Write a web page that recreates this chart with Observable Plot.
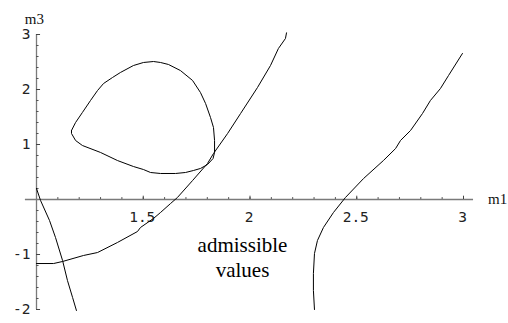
<!DOCTYPE html>
<html>
<head>
<meta charset="utf-8">
<script src="https://cdn.jsdelivr.net/npm/d3@7"></script>
<script src="https://cdn.jsdelivr.net/npm/@observablehq/plot@0.6"></script>
<style>
  html, body { margin: 0; padding: 0; background: #fff; }
  #chart svg { display: block; }
</style>
</head>
<body>
<div id="chart"></div>
<script>
// Level curves in the (m1, m3) plane, as [m1, m3] pairs.
const loopCurve = [
  [1.164, 1.255], [1.183, 1.40], [1.215, 1.582], [1.253, 1.80], [1.286, 1.982],
  [1.314, 2.109], [1.356, 2.218], [1.393, 2.309], [1.454, 2.436], [1.501, 2.491],
  [1.548, 2.509], [1.581, 2.491], [1.618, 2.455], [1.674, 2.345], [1.731, 2.164],
  [1.768, 1.945], [1.792, 1.745], [1.815, 1.491], [1.829, 1.309], [1.834, 1.073],
  [1.834, 0.855], [1.827, 0.745], [1.801, 0.636], [1.768, 0.564], [1.735, 0.527],
  [1.698, 0.491], [1.651, 0.473], [1.581, 0.473], [1.534, 0.491], [1.501, 0.545],
  [1.454, 0.60], [1.379, 0.709], [1.30, 0.855], [1.215, 0.982], [1.183, 1.073],
  [1.164, 1.20], [1.164, 1.255]
];

const risingCurve = [
  [1.0, -1.164], [1.080, -1.164], [1.122, -1.127], [1.220, -1.018], [1.286, -0.964],
  [1.379, -0.782], [1.473, -0.582], [1.487, -0.509], [1.548, -0.345], [1.581, -0.236],
  [1.628, -0.073], [1.660, 0.036], [1.731, 0.345], [1.801, 0.655], [1.829, 0.836],
  [1.895, 1.20], [1.956, 1.564], [2.035, 2.036], [2.096, 2.436], [2.133, 2.745],
  [2.166, 2.927], [2.171, 3.03]
];

const steepCurve = [
  [1.0, 0.20], [1.019, -0.018], [1.061, -0.382], [1.089, -0.691], [1.122, -1.109],
  [1.145, -1.473], [1.169, -1.782], [1.187, -2.018]
];

const rightCurve = [
  [2.302, -2.0], [2.297, -1.655], [2.297, -1.345], [2.302, -0.982], [2.316, -0.745],
  [2.344, -0.509], [2.391, -0.236], [2.447, 0.036], [2.532, 0.382], [2.625, 0.709],
  [2.682, 0.927], [2.705, 1.073], [2.752, 1.255], [2.808, 1.564], [2.845, 1.80],
  [2.892, 2.018], [2.930, 2.255], [2.995, 2.655]
];

// Tick labels
const xTicks = [1.5, 2, 2.5, 3];
const yTicks = [-2, -1, 1, 2, 3];
const xMinor = d3.range(11, 31).map(d => d / 10);
const yMinor = d3.range(-10, 16).map(d => d / 5).filter(d => d !== 0);

// Axis names and the region annotation
const axisNames = [
  {text: "m1", x: 3.16, y: 0},
  {text: "m3", x: 0.99, y: 3.27}
];
const notes = [{text: "admissible\nvalues", x: 1.965, y: -1.038}];

const tickFont = "'DejaVu Sans Mono', monospace";
const serifFont = "'Liberation Serif', 'Times New Roman', serif";
const axisGray = "#7a7a7a";

const chart = Plot.plot({
  width: 508,
  height: 323,
  margin: 0,
  style: {background: "#fff", overflow: "visible"},
  x: {domain: [1, 3], range: [36, 463], axis: null},
  y: {domain: [-2, 3], range: [309, 34], axis: null},
  marks: [
    // axes crossing at (1, 0)
    Plot.ruleY([0], {x1: 0.948, x2: 3.047, stroke: axisGray, strokeWidth: 1.3}),
    Plot.ruleX([1], {y1: -2, y2: 3, stroke: axisGray, strokeWidth: 1.3}),
    // minor and major ticks
    Plot.ruleX(xMinor, {y1: 0, y2: 0.035, stroke: "#555", strokeWidth: 1}),
    Plot.ruleX(xTicks, {y1: 0, y2: 0.06, stroke: "#444", strokeWidth: 1}),
    Plot.ruleY(yMinor, {x1: 1, x2: 1.012, stroke: "#555", strokeWidth: 1}),
    Plot.ruleY(yTicks, {x1: 1, x2: 1.019, stroke: "#444", strokeWidth: 1}),
    // tick labels
    Plot.text(xTicks, {x: d => d, y: 0, dy: 18, dx: -1, text: d => String(d),
      fontFamily: tickFont, fontSize: 14.5, fill: "#222", textAnchor: "middle"}),
    Plot.text(yTicks, {x: 1, y: d => d, dx: -6, text: d => String(d),
      fontFamily: tickFont, fontSize: 14.5, fill: "#222", textAnchor: "end"}),
    // axis names
    Plot.text(axisNames, {x: "x", y: "y", text: "text",
      fontFamily: serifFont, fontSize: 15, fill: "#111", textAnchor: "middle"}),
    // curves
    Plot.line(loopCurve, {x: d => d[0], y: d => d[1], stroke: "#000", strokeWidth: 1}),
    Plot.line(risingCurve, {x: d => d[0], y: d => d[1], stroke: "#000", strokeWidth: 1}),
    Plot.line(steepCurve, {x: d => d[0], y: d => d[1], stroke: "#000", strokeWidth: 1}),
    Plot.line(rightCurve, {x: d => d[0], y: d => d[1], stroke: "#000", strokeWidth: 1}),
    // annotation
    Plot.text(notes, {x: "x", y: "y", text: "text", lineHeight: 1.2,
      fontFamily: serifFont, fontSize: 21, fill: "#000", textAnchor: "middle"})
  ]
});

document.getElementById("chart").appendChild(chart);
</script>
</body>
</html>
